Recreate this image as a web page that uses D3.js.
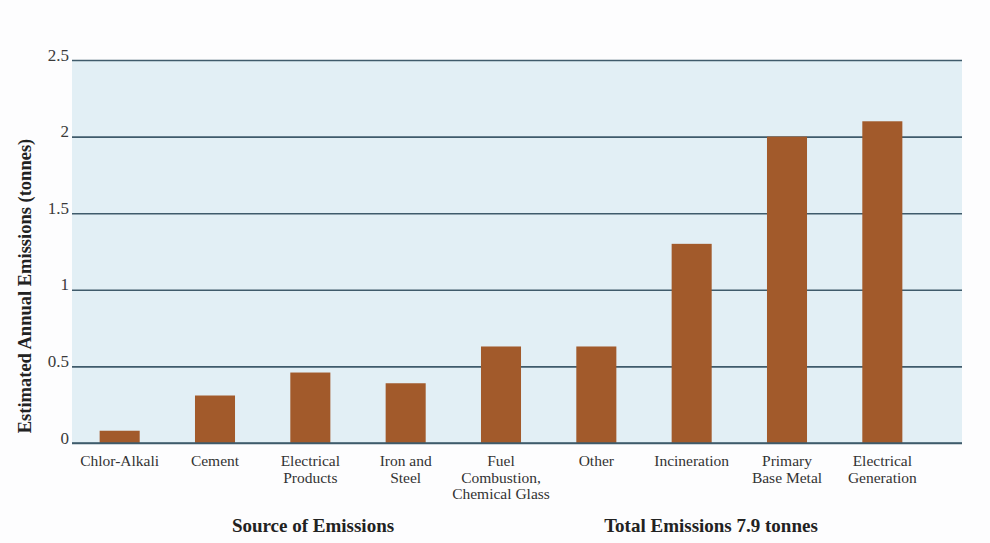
<!DOCTYPE html>
<html>
<head>
<meta charset="utf-8">
<script src="https://cdn.jsdelivr.net/npm/d3@7/dist/d3.min.js"></script>
<style>
  html, body { margin: 0; padding: 0; background: #fdfdfe; }
  svg { display: block; }
  text { font-family: "Liberation Serif", "DejaVu Serif", serif; }
</style>
</head>
<body>
<svg id="chart" width="990" height="543"></svg>
<script>
// Sources of emissions and their estimated annual output (tonnes)
const categories = [
  ["Chlor-Alkali"],
  ["Cement"],
  ["Electrical", "Products"],
  ["Iron and", "Steel"],
  ["Fuel", "Combustion,", "Chemical Glass"],
  ["Other"],
  ["Incineration"],
  ["Primary", "Base Metal"],
  ["Electrical", "Generation"]
];
const emissions = [0.08, 0.31, 0.46, 0.39, 0.63, 0.63, 1.3, 2.0, 2.1];
const yTicks = [0, 0.5, 1, 1.5, 2, 2.5];
const yTickLabels = ["0", "0.5", "1", "1.5", "2", "2.5"];

const svg = d3.select("#chart");
const plot = { left: 72, right: 962, top: 60, bottom: 443 };

const x = d3.scaleBand()
  .domain(categories.map((d, i) => i))
  .range([plot.left, 930])
  .paddingInner(0.58)
  .paddingOuter(0.29);

const y = d3.scaleLinear()
  .domain([0, 2.5])
  .range([plot.bottom, plot.top]);

// Plot background
svg.append("rect")
  .attr("x", plot.left)
  .attr("y", plot.top)
  .attr("width", plot.right - plot.left)
  .attr("height", plot.bottom - plot.top)
  .attr("fill", "#e2eff5");

// Horizontal gridlines with labels sitting on them
const yAxis = d3.axisLeft(y)
  .tickValues(yTicks)
  .tickFormat((d, i) => yTickLabels[i])
  .tickSize(-(plot.right - plot.left))
  .tickPadding(3);

const gy = svg.append("g")
  .attr("transform", `translate(${plot.left},0)`)
  .call(yAxis);
gy.select(".domain").remove();
gy.selectAll(".tick line")
  .attr("stroke", "#3f5b6b")
  .attr("stroke-width", 1.6);
gy.selectAll(".tick text")
  .attr("dy", "0")
  .attr("y", 0)
  .attr("fill", "#3a3a3a")
  .style("font-size", "17px");

// Bars
svg.append("g")
  .selectAll("rect")
  .data(emissions)
  .join("rect")
  .attr("x", (d, i) => x(i))
  .attr("width", x.bandwidth())
  .attr("y", d => y(d))
  .attr("height", d => y(0) - y(d))
  .attr("fill", "#a25a2b");

// Redraw the baseline over the bars
svg.append("line")
  .attr("x1", plot.left).attr("x2", plot.right)
  .attr("y1", y(0)).attr("y2", y(0))
  .attr("stroke", "#3f5b6b")
  .attr("stroke-width", 1.6);

// Category labels (multi-line)
const xl = svg.append("g")
  .selectAll("text")
  .data(categories)
  .join("text")
  .attr("x", (d, i) => x(i) + x.bandwidth() / 2)
  .attr("y", 466)
  .attr("text-anchor", "middle")
  .attr("fill", "#333")
  .style("font-size", "15.5px");
xl.selectAll("tspan")
  .data(d => d)
  .join("tspan")
  .attr("x", function () { return d3.select(this.parentNode).attr("x"); })
  .attr("dy", (d, i) => i === 0 ? 0 : 16.5)
  .text(d => d);

// Y axis title
svg.append("text")
  .attr("transform", "translate(31,286) rotate(-90)")
  .attr("text-anchor", "middle")
  .attr("fill", "#222")
  .style("font-size", "18.5px")
  .style("font-weight", "bold")
  .text("Estimated Annual Emissions (tonnes)");

// Footer titles
svg.append("text")
  .attr("x", 313).attr("y", 532)
  .attr("text-anchor", "middle")
  .attr("fill", "#222")
  .style("font-size", "19px")
  .style("font-weight", "bold")
  .text("Source of Emissions");

svg.append("text")
  .attr("x", 711).attr("y", 532)
  .attr("text-anchor", "middle")
  .attr("fill", "#222")
  .style("font-size", "19px")
  .style("font-weight", "bold")
  .text("Total Emissions 7.9 tonnes");
</script>
</body>
</html>
